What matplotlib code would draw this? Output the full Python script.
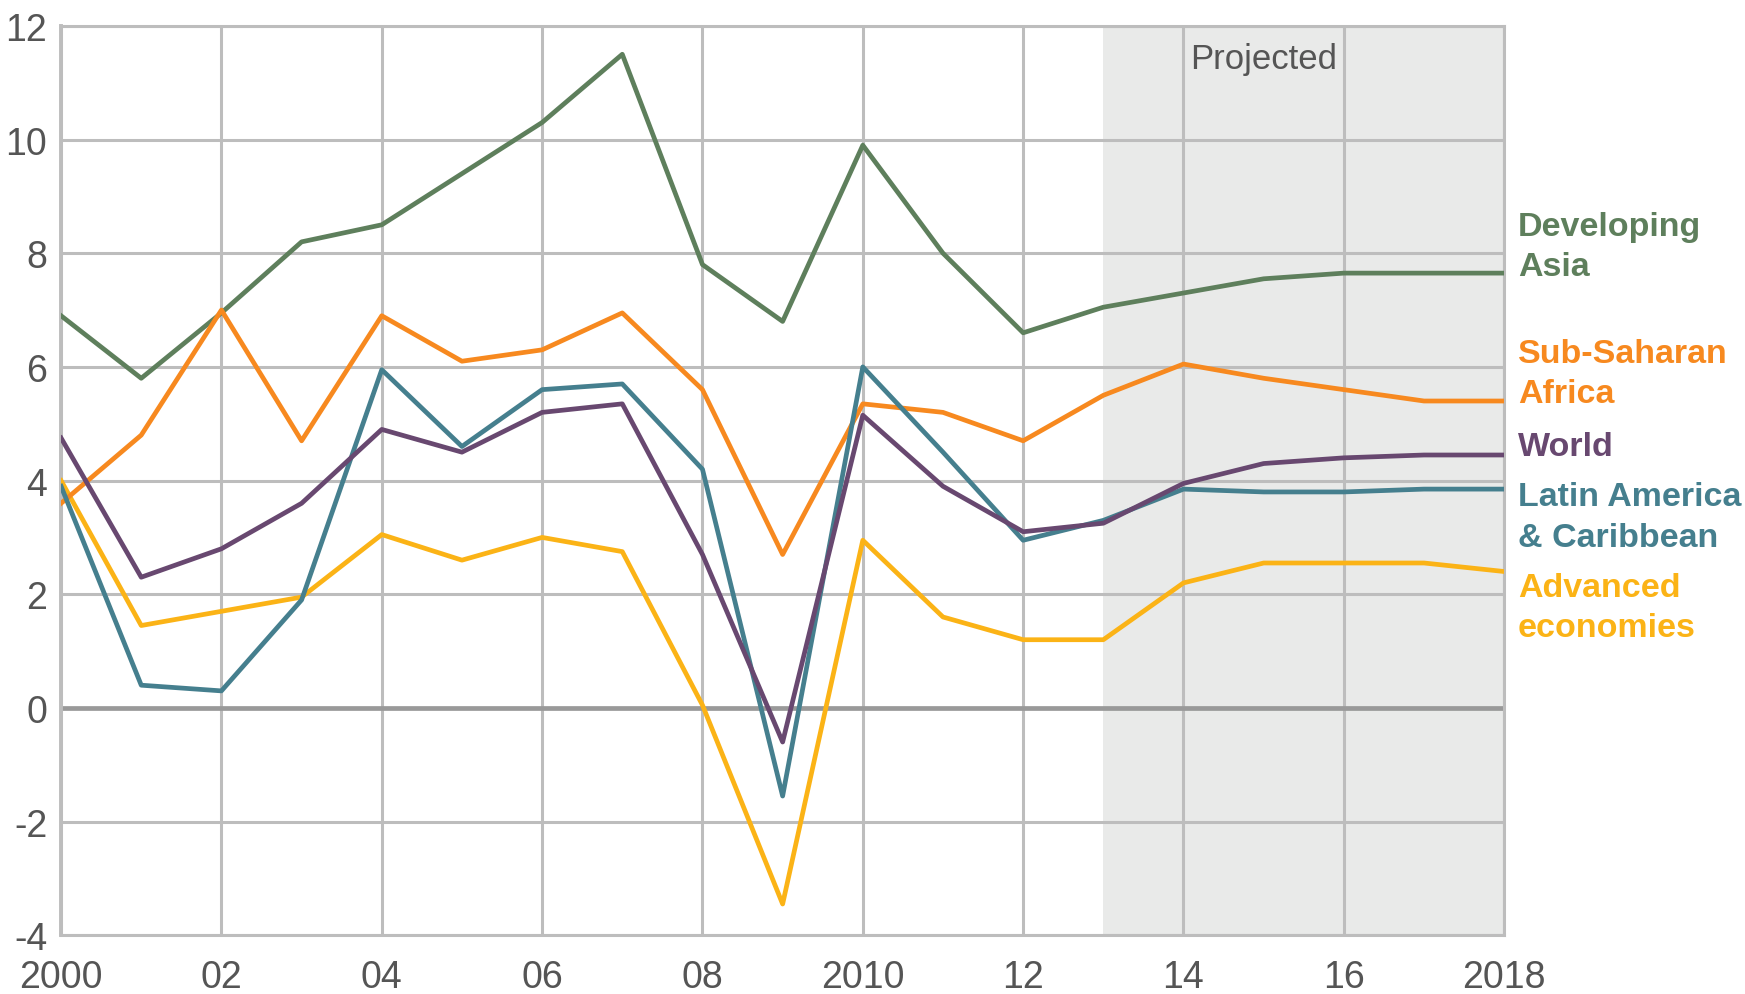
import matplotlib
matplotlib.use('Agg')
import matplotlib.pyplot as plt

years = list(range(2000, 2019))

dev_asia = [6.9, 5.8, 6.95, 8.2, 8.5, 9.4, 10.3, 11.5, 7.8, 6.8, 9.9, 8.0, 6.6, 7.05, 7.3, 7.55, 7.65, 7.65, 7.65]
ssa = [3.6, 4.8, 7.0, 4.7, 6.9, 6.1, 6.3, 6.95, 5.6, 2.7, 5.35, 5.2, 4.7, 5.5, 6.05, 5.8, 5.6, 5.4, 5.4]
world = [4.75, 2.3, 2.8, 3.6, 4.9, 4.5, 5.2, 5.35, 2.7, -0.6, 5.15, 3.9, 3.1, 3.25, 3.95, 4.3, 4.4, 4.45, 4.45]
latam = [3.9, 0.4, 0.3, 1.9, 5.95, 4.6, 5.6, 5.7, 4.2, -1.55, 6.0, 4.5, 2.95, 3.3, 3.85, 3.8, 3.8, 3.85, 3.85]
advanced = [4.0, 1.45, 1.7, 1.95, 3.05, 2.6, 3.0, 2.75, 0.05, -3.45, 2.95, 1.6, 1.2, 1.2, 2.2, 2.55, 2.55, 2.55, 2.4]

series_names = ['Developing\nAsia', 'Sub-Saharan\nAfrica', 'World', 'Latin America\n& Caribbean', 'Advanced\neconomies']
series_colors = ['#5e7f5c', '#f7891f', '#684870', '#457f8e', '#fbb316']
label_y = [8.12, 5.89, 4.6, 3.36, 1.76]

xticks = [2000, 2002, 2004, 2006, 2008, 2010, 2012, 2014, 2016, 2018]
xlabels = ['2000', '02', '04', '06', '08', '2010', '12', '14', '16', '2018']
yticks = [-4, -2, 0, 2, 4, 6, 8, 10, 12]
ylabels = ['-4', '-2', '0', '2', '4', '6', '8', '10', '12']

tick_font = ['Liberation Sans Narrow', 'Liberation Sans', 'DejaVu Sans']
label_font = ['Liberation Sans', 'DejaVu Sans']

fig = plt.figure(figsize=(17.45, 9.95), dpi=100)
ax = fig.add_axes([0.035, 0.059, 0.827, 0.914])

ax.axvspan(2013, 2018, color='#e9eae9', zorder=0, lw=0)
ax.grid(True, color='#bdbdbd', lw=2.2, zorder=1)
ax.axhline(0, color='#999999', lw=3.4, zorder=2)

all_series = [dev_asia, ssa, world, latam, advanced]
# purple drawn last so it sits over teal like the original
for idx in [4, 0, 1, 3, 2]:
    ax.plot(years, all_series[idx], color=series_colors[idx], lw=3.4, zorder=3)

for name, col, yy in zip(series_names, series_colors, label_y):
    ax.text(2018.17, yy, name, color=col, fontsize=24.5, fontweight='bold',
            family=label_font, va='center', ha='left', linespacing=1.38,
            clip_on=False)

ax.text(2015, 11.42, 'Projected', color='#555555', fontsize=25, family=tick_font,
        ha='center', va='center')

ax.set_xlim(2000, 2018)
ax.set_ylim(-4, 12)
ax.set_xticks(xticks)
ax.set_xticklabels(xlabels, family=tick_font, fontsize=27, color='#555555')
ax.set_yticks(yticks)
ax.set_yticklabels(ylabels, family=tick_font, fontsize=27, color='#555555')
ax.tick_params(axis='both', length=0)
ax.tick_params(axis='x', pad=17)
ax.tick_params(axis='y', pad=10)

for s in ax.spines.values():
    s.set_color('#bdbdbd')
    s.set_linewidth(2.2)
ax.spines['left'].set_linewidth(2.8)

fig.savefig('out.png', dpi=100)
